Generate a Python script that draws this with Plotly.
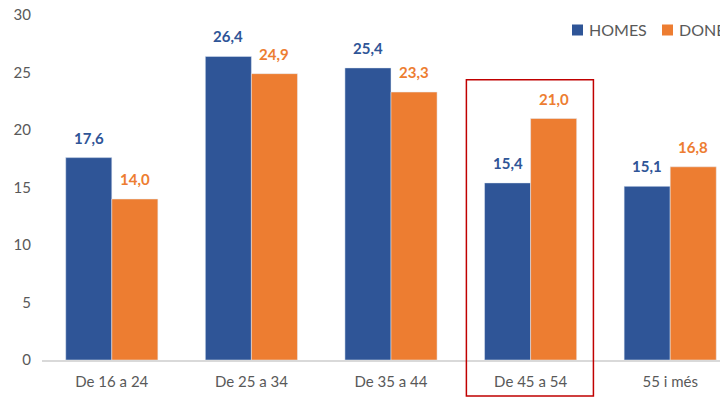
import plotly.graph_objects as go

categories = ["De 16 a 24", "De 25 a 34", "De 35 a 44", "De 45 a 54", "55 i més"]
homes = [17.6, 26.4, 25.4, 15.4, 15.1]
dones = [14.0, 24.9, 23.3, 21.0, 16.8]
y_ticks = [0, 5, 10, 15, 20, 25, 30]
series = [("HOMES", homes), ("DONES", dones)]

BLUE = "#2F5597"
ORANGE = "#ED7D31"
GREY = "#595959"
FONT = "Lato"
colors = [BLUE, ORANGE]

# plot-area geometry in figure pixels (page has an 8px body offset)
L, R, T, B, W, H = 34, 8, 7, 50, 728, 402
PW, PH = W - L - R, H - T - B

def px_to_paper_x(fx):
    return (fx - L) / PW

def px_to_paper_y(fy):
    return (H - B - fy) / PH

def fmt(v):
    return f"{v:.1f}".replace(".", ",")

fig = go.Figure()
for (name, vals), col in zip(series, colors):
    fig.add_trace(go.Bar(name=name, x=categories, y=vals, marker_color=col, showlegend=False))

annotations = []
for i, (h, d) in enumerate(zip(homes, dones)):
    for v, off, col in ((h, -0.165, BLUE), (d, 0.165, ORANGE)):
        annotations.append(dict(
            x=i + off, y=v, xref="x", yref="y", text=fmt(v), showarrow=False,
            yanchor="bottom", yshift=9,
            font=dict(family=FONT, size=15, color=col, weight="bold"),
        ))

# manual legend (squares + text) to match compact spacing
shapes = []
leg_y = px_to_paper_y(22)
sq_h = 11 / PH
for (name, _), col, sx in zip(series, colors, (564, 654)):
    shapes.append(dict(type="rect", xref="paper", yref="paper",
                       x0=px_to_paper_x(sx), x1=px_to_paper_x(sx + 11),
                       y0=leg_y - sq_h / 2, y1=leg_y + sq_h / 2,
                       fillcolor=col, line=dict(width=0)))
    annotations.append(dict(x=px_to_paper_x(sx + 15), y=leg_y, xref="paper", yref="paper",
                            text=name, showarrow=False, xanchor="left", yanchor="middle",
                            font=dict(family=FONT, size=16, color=GREY)))

shapes.append(dict(type="rect", xref="x", yref="paper",
                   x0=3 - 0.46, x1=3 + 0.45, y0=-0.104, y1=0.812,
                   line=dict(color="#C00000", width=1.5), fillcolor="rgba(0,0,0,0)"))

fig.update_layout(
    width=W, height=H,
    margin=dict(l=L, r=R, t=T, b=B, autoexpand=False),
    paper_bgcolor="white", plot_bgcolor="white",
    barmode="group", bargap=0.34, bargroupgap=0,
    font=dict(family=FONT, size=15, color=GREY),
    showlegend=False,
    annotations=annotations,
    shapes=shapes,
)
fig.update_xaxes(
    type="category", range=[-0.5, 4.414], automargin=False,
    showline=True, linecolor="#D9D9D9", linewidth=1.5,
    showgrid=False, ticks="", ticklabelstandoff=7,
    tickfont=dict(family=FONT, size=15, color=GREY),
)
fig.update_yaxes(
    range=[0, 30], tickvals=y_ticks, showgrid=False, showline=False, zeroline=False,
    automargin=False, ticklabeloverflow="allow",
    ticks="", ticklabelstandoff=10, tickfont=dict(family=FONT, size=15, color=GREY),
)

fig.write_html("out.html")
